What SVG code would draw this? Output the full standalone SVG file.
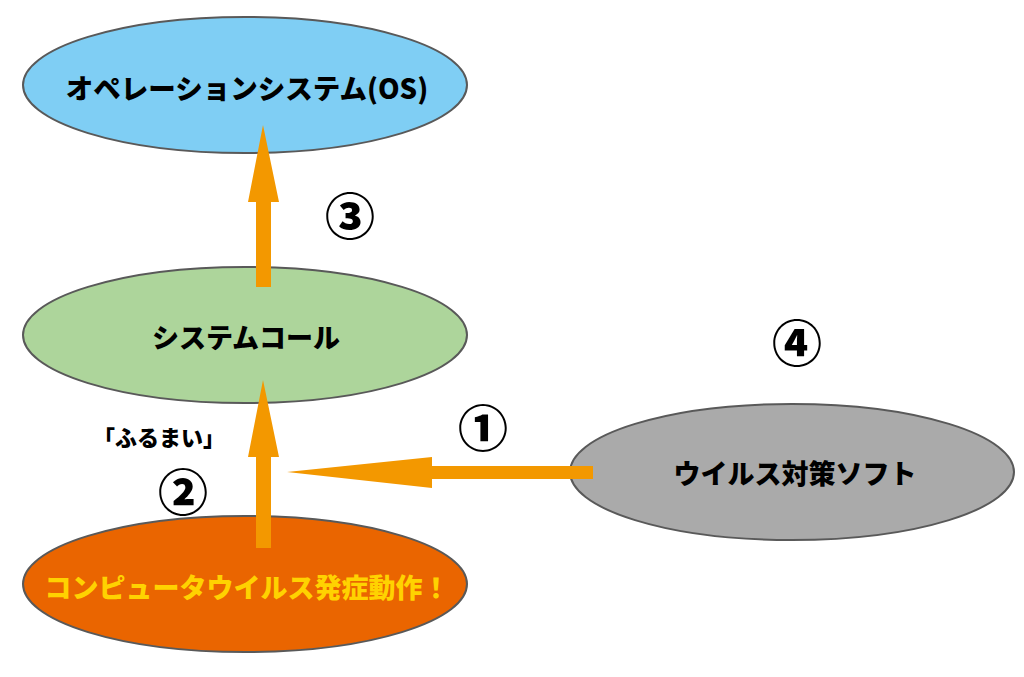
<svg xmlns="http://www.w3.org/2000/svg" width="1024" height="677" viewBox="0 0 1024 677">
<style>
.node ellipse{stroke:#595959;stroke-width:2}
.lbl{font-family:"Noto Sans CJK JP","Noto Sans",sans-serif;font-weight:900;text-anchor:middle;dominant-baseline:central}
.num{font-family:"Noto Sans CJK JP",sans-serif;font-weight:900;text-anchor:middle;dominant-baseline:central;font-size:50px;fill:#000}
.arrow{fill:#F39800}
</style>
<rect width="1024" height="677" fill="#fff"/>
<g id="os" class="node">
<ellipse cx="245" cy="85" rx="222" ry="68" fill="#7FCEF4"/>
<text class="lbl" x="247" y="87" font-size="27.5" fill="#000">オペレーションシステム(OS)</text>
</g>
<g id="syscall" class="node">
<ellipse cx="245" cy="335" rx="222" ry="68" fill="#ADD59B"/>
<text class="lbl" x="246" y="336" font-size="27" fill="#000">システムコール</text>
</g>
<g id="virus" class="node">
<ellipse cx="245" cy="584" rx="222" ry="68" fill="#EA6500"/>
<text class="lbl" x="247" y="586" font-size="27" fill="#FFD200">コンピュータウイルス発症動作！</text>
</g>
<g id="antivirus" class="node">
<ellipse cx="792" cy="472" rx="222" ry="68" fill="#AAAAAA"/>
<text class="lbl" x="795" y="472" font-size="27" fill="#000">ウイルス対策ソフト</text>
</g>
<g id="connectors">
<polygon class="arrow" points="256,287 271,287 271,202 279,202 263,125 248,202 256,202"/>
<polygon class="arrow" points="256,548 271,548 271,457 279,457 263,380 248,457 256,457"/>
<polygon class="arrow" points="593,466 593,479 432,479 432,488 287,472 432,457 432,466"/>
</g>
<g id="labels">
<text class="lbl" x="159" y="436" font-size="22" fill="#000">「ふるまい」</text>
<text class="num" x="483" y="425">①</text>
<text class="num" x="183" y="489">②</text>
<text class="num" x="350" y="213">③</text>
<text class="num" x="797" y="340">④</text>
</g>
</svg>
